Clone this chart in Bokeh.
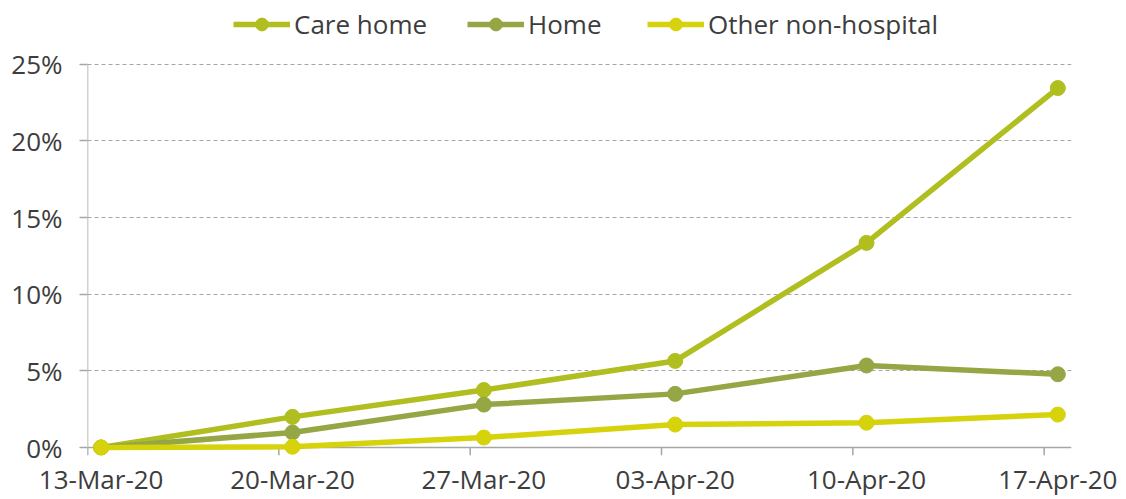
import pandas as pd
from bokeh.plotting import figure
from bokeh.models import (Range1d, FixedTicker, DatetimeTickFormatter, Legend, LegendItem,
                          Span, ColumnDataSource, PrintfTickFormatter)
from bokeh.embed import file_html
from bokeh.resources import INLINE

# ---- data ----
dates = ["2020-03-13", "2020-03-20", "2020-03-27", "2020-04-03", "2020-04-10", "2020-04-17"]
care_home = [0.0, 2.0, 3.75, 5.65, 13.35, 23.45]
home = [0.0, 0.98, 2.8, 3.5, 5.35, 4.78]
other_non_hospital = [0.0, 0.05, 0.65, 1.5, 1.62, 2.15]
series_names = ["Care home", "Home", "Other non-hospital"]
y_ticks = [0, 5, 10, 15, 20, 25]

colors = ["#b0be1f", "#95a645", "#d6d20b"]
FONT = "Open Sans"
FS = "26px"
TEXT = "#3d3d3d"
AXIS = "#a6a6a6"

tick_dates = pd.to_datetime(dates)
pt_dates = tick_dates + pd.Timedelta(hours=12)   # points sit mid-day, as in the source
Y_START = -0.52
Y_TOP = 28.9   # room above the 25% line for the legend

def to_ms(idx):
    return [float((t - pd.Timestamp("1970-01-01")) // pd.Timedelta(milliseconds=1)) for t in idx]

p = figure(width=1126, height=499, x_axis_type="datetime",
           output_backend="svg", toolbar_location=None,
           x_range=Range1d(tick_dates[0], tick_dates[-1] + pd.Timedelta(days=1)),
           y_range=Range1d(Y_START, Y_TOP),
           min_border_left=87, min_border_right=55, min_border_top=4, min_border_bottom=42)
p.outline_line_color = None
p.background_fill_color = "white"
p.border_fill_color = "white"

# grid
p.xgrid.visible = False
p.ygrid.ticker = FixedTicker(ticks=y_ticks[1:])
p.ygrid.grid_line_color = AXIS
p.ygrid.grid_line_dash = "4 3"
p.ygrid.grid_line_width = 1.2

# y axis (line drawn separately so it stops at 25%)
p.yaxis.ticker = FixedTicker(ticks=y_ticks)
p.yaxis.formatter = PrintfTickFormatter(format="%d%%")
p.yaxis.axis_line_color = None
p.yaxis.major_tick_line_color = AXIS
p.yaxis.major_tick_line_width = 1.5
p.yaxis.major_tick_out = 8
p.yaxis.major_tick_in = 0
p.yaxis.minor_tick_line_color = None
p.yaxis.major_label_standoff = 17
p.yaxis.major_label_text_font = FONT
p.yaxis.major_label_text_font_size = FS
p.yaxis.major_label_text_color = TEXT

# x axis: labels at the point positions, ticks drawn separately
fmt = "%d-%b-%y"
p.xaxis.ticker = FixedTicker(ticks=to_ms(pt_dates))
p.xaxis.formatter = DatetimeTickFormatter(
    microseconds=fmt, milliseconds=fmt, seconds=fmt, minsec=fmt, minutes=fmt,
    hourmin=fmt, hours=fmt, days=fmt, months=fmt, years=fmt)
p.xaxis.axis_line_color = None
p.xaxis.major_tick_line_color = None
p.xaxis.major_tick_out = 0
p.xaxis.major_tick_in = 0
p.xaxis.minor_tick_line_color = None
p.xaxis.major_label_standoff = 5
p.xaxis.major_label_text_font = FONT
p.xaxis.major_label_text_font_size = FS
p.xaxis.major_label_text_color = TEXT

# axis lines and x tick marks
p.add_layout(Span(location=0, dimension="width", line_color=AXIS, line_width=1.5, level="underlay"))
p.segment(x0=[tick_dates[0]], y0=[Y_START], x1=[tick_dates[0]], y1=[y_ticks[-1]],
          line_color=AXIS, line_width=1.5, level="underlay")
p.segment(x0=list(tick_dates), y0=[0] * len(tick_dates), x1=list(tick_dates),
          y1=[Y_START] * len(tick_dates), line_color=AXIS, line_width=1.5, level="underlay")

items = []
for name, vals, col in zip(series_names, [care_home, home, other_non_hospital], colors):
    src = ColumnDataSource(dict(x=list(pt_dates), y=vals))
    ln = p.line("x", "y", source=src, line_color=col, line_width=5.5)
    sc = p.scatter("x", "y", source=src, size=15, fill_color=col, line_color=col)
    items.append(LegendItem(label=name, renderers=[ln, sc]))

# one legend per entry, placed above the plot area as in the source
legend_x = [146, 380, 560]
for item, lx in zip(items, legend_x):
    lg = Legend(items=[item], orientation="horizontal", location=(lx, 413),
                label_text_font=FONT, label_text_font_size=FS, label_text_color=TEXT,
                glyph_width=57, glyph_height=32, label_standoff=4,
                padding=0, margin=0, border_line_color=None, background_fill_alpha=0)
    p.add_layout(lg, "center")

open("out.html", "w").write(file_html(p, INLINE))
